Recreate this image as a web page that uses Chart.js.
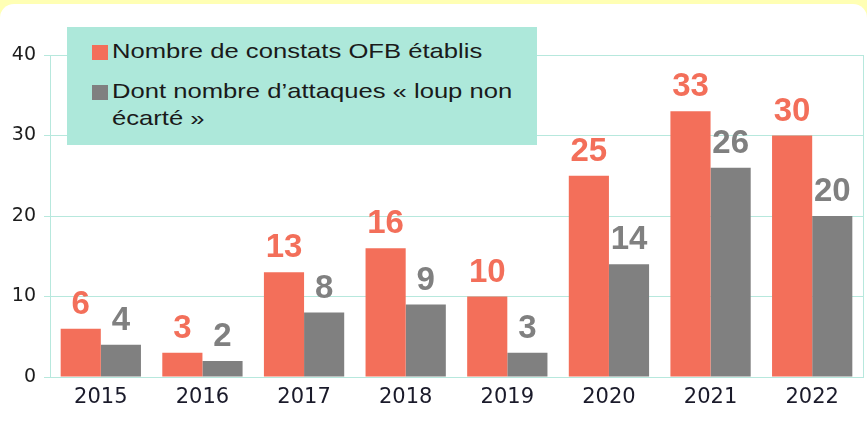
<!DOCTYPE html>
<html lang="fr">
<head>
<meta charset="utf-8">
<script src="https://cdn.jsdelivr.net/npm/chart.js@4/dist/chart.umd.min.js"></script>
<style>
  html, body { margin: 0; padding: 0; }
  body { width: 867px; height: 422px; background: #ffffb4; position: relative; overflow: hidden; }
  #card { position: absolute; left: 0; top: 4px; width: 867px; height: 430px; background: #fff; border-radius: 14px 14px 0 0; }
  #wrap { position: absolute; left: 0; top: 0; width: 867px; height: 422px; }
  #legend { position: absolute; left: 67px; top: 27px; width: 470px; height: 118px; background: #ade8da; }
  .sw { position: absolute; left: 25px; width: 16px; height: 15px; }
  .txt { position: absolute; left: 45px; font: 21px "Liberation Sans", Arial, sans-serif; line-height: 27px;
         color: #1a1a1a; white-space: nowrap; transform: scaleX(1.22); transform-origin: 0 0; }
</style>
</head>
<body>
<div id="card"></div>
<div id="wrap"><canvas id="myChart" width="867" height="422"></canvas></div>
<div id="legend">
  <span class="sw" style="top:18px;background:#f36f5a"></span>
  <div class="txt" style="top:10px">Nombre de constats OFB établis</div>
  <span class="sw" style="top:58px;background:#808080"></span>
  <div class="txt" style="top:50px">Dont nombre d’attaques « loup non<br>écarté »</div>
</div>
<script>
const YEARS = ['2015', '2016', '2017', '2018', '2019', '2020', '2021', '2022'];
const CONSTATS = [6, 3, 13, 16, 10, 25, 33, 30];
const ATTAQUES = [4, 2, 8, 9, 3, 14, 26, 20];
const Y_TICKS = [0, 10, 20, 30, 40];

const RED = '#f36f5a';
const GRAY = '#808080';
const GRID = '#b7e8dd';

// numbers above each bar + right border of the plot
const barLabels = {
    id: 'barLabels',
    afterDatasetsDraw(chart) {
        const { ctx, chartArea } = chart;
        ctx.save();
        ctx.strokeStyle = GRID;
        ctx.lineWidth = 1;
        ctx.beginPath();
        ctx.moveTo(chartArea.right + 0.5, chartArea.top);
        ctx.lineTo(chartArea.right + 0.5, chartArea.bottom);
        ctx.stroke();

        ctx.font = 'bold 33px "Liberation Sans", Arial, sans-serif';
        ctx.textAlign = 'center';
        ctx.textBaseline = 'alphabetic';
        chart.data.datasets.forEach((ds, i) => {
            ctx.fillStyle = ds.backgroundColor;
            chart.getDatasetMeta(i).data.forEach((bar, j) => {
                ctx.fillText(String(ds.data[j]), bar.x, bar.y - 15);
            });
        });
        ctx.restore();
    }
};

new Chart(document.getElementById('myChart'), {
    type: 'bar',
    data: {
        labels: YEARS,
        datasets: [
            { label: 'Nombre de constats OFB établis', data: CONSTATS, backgroundColor: RED },
            { label: 'Dont nombre d’attaques « loup non écarté »', data: ATTAQUES, backgroundColor: GRAY },
        ]
    },
    options: {
        responsive: false,
        animation: false,
        categoryPercentage: 0.79,
        barPercentage: 1,
        layout: { padding: { top: 55, right: 4, left: 0, bottom: 0 } },
        plugins: {
            legend: { display: false },
            tooltip: { enabled: false }
        },
        scales: {
            y: {
                min: Y_TICKS[0],
                max: Y_TICKS[Y_TICKS.length - 1],
                afterBuildTicks(scale) { scale.ticks = Y_TICKS.map(v => ({ value: v })); },
                afterFit(scale) { scale.width = 50; },
                ticks: {
                    color: '#1c1c1c',
                    padding: 8,
                    font: { family: '"DejaVu Sans"', size: 19 }
                },
                grid: { color: GRID, tickLength: 6 },
                border: { color: GRID }
            },
            x: {
                afterFit(scale) { scale.height = 45; },
                ticks: {
                    color: '#1a1a2a',
                    padding: 8,
                    font: { family: '"DejaVu Sans"', size: 21 }
                },
                grid: { display: true, drawOnChartArea: false, drawTicks: false, color: GRID },
                border: { color: GRID }
            }
        }
    },
    plugins: [barLabels]
});
</script>
</body>
</html>
